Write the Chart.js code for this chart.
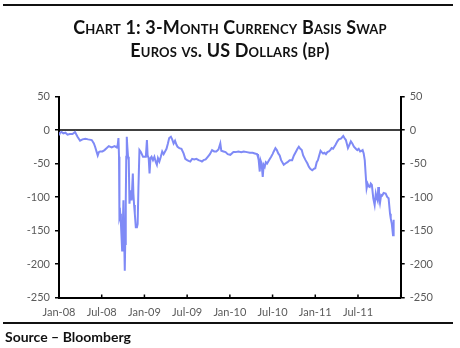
<!DOCTYPE html>
<html>
<head>
<meta charset="utf-8">
<script src="https://cdn.jsdelivr.net/npm/chart.js@4.4.1/dist/chart.umd.min.js"></script>
<style>
    html, body { margin: 0; padding: 0; background: #fff; }
    #page { position: relative; width: 460px; height: 348px; overflow: hidden; }
    #basisChart { position: absolute; left: 0; top: 0; }
    .rule { position: absolute; left: 3px; width: 450px; height: 2px; background: #111; }
    .title {
        position: absolute; left: 0; width: 460px; text-align: center;
        font-family: Lato, "Open Sans", sans-serif; font-weight: bold;
        font-variant: small-caps; font-size: 18px; line-height: 22px; color: #111;
        letter-spacing: 0.15px;
    }
    #source {
        position: absolute; left: 5px; top: 328px;
        font-family: Lato, "Open Sans", sans-serif; font-weight: bold; font-size: 14px; color: #111;
    }
</style>
</head>
<body>
<div id="page">
    <canvas id="basisChart" width="460" height="348"></canvas>
    <div class="rule" style="top:4px"></div>
    <div class="title" style="top:16px">Chart 1: 3-Month Currency Basis Swap</div>
    <div class="title" style="top:39px">Euros vs. US Dollars (bp)</div>
    <div class="rule" style="top:322px"></div>
    <div id="source">Source – Bloomberg</div>
</div>
<script>
// Months elapsed since 1 Jan 2008 for each observation
const tradeMonths = [
    0.0, 0.15, 0.35, 0.6, 0.9, 1.2, 1.5, 1.9, 2.25, 2.6, 2.96, 3.3, 3.7, 4.1, 4.6, 4.9,
    5.07, 5.3, 5.44, 5.6, 5.77, 6.1, 6.4, 6.71, 7.0, 7.4, 7.8, 8.12, 8.25, 8.35, 8.43, 8.49,
    8.6, 8.7, 8.87, 8.95, 9.05, 9.15, 9.24, 9.3, 9.38, 9.45, 9.52, 9.6, 9.7, 9.8, 9.9, 10.0,
    10.1, 10.2, 10.37, 10.45, 10.55, 10.65, 10.79, 10.95, 11.05, 11.16, 11.3, 11.5, 11.8, 12.0,
    12.2, 12.35, 12.45, 12.6, 12.72, 12.85, 13.0, 13.2, 13.4, 13.6, 13.75, 13.9, 14.1, 14.3,
    14.5, 14.7, 14.9, 15.1, 15.3, 15.48, 15.72, 15.9, 16.1, 16.3, 16.5, 16.65, 16.9, 17.2,
    17.5, 17.74, 18.0, 18.2, 18.44, 18.7, 19.0, 19.3, 19.6, 19.9, 20.08, 20.3, 20.6, 20.9,
    21.2, 21.5, 21.8, 22.1, 22.4, 22.66, 22.8, 23.1, 23.4, 23.7, 24.07, 24.5, 24.8, 25.2,
    25.6, 25.95, 26.4, 26.8, 27.2, 27.5, 27.82, 27.95, 28.05, 28.2, 28.3, 28.45, 28.62, 28.75,
    28.9, 29.05, 29.23, 29.5, 29.8, 30.0, 30.17, 30.4, 30.6, 30.8, 31.0, 31.2, 31.57, 31.8,
    32.1, 32.4, 32.75, 33.0, 33.3, 33.5, 33.69, 33.9, 34.1, 34.3, 34.63, 34.9, 35.1, 35.3,
    35.57, 35.8, 36.0, 36.2, 36.37, 36.55, 36.74, 36.9, 37.1, 37.3, 37.5, 37.7, 37.91, 38.1,
    38.3, 38.5, 38.85, 39.1, 39.3, 39.6, 39.93, 40.1, 40.3, 40.59, 40.8, 41.0, 41.2, 41.43,
    41.7, 41.9, 42.1, 42.3, 42.5, 42.65, 42.8, 42.95, 43.07, 43.21, 43.35, 43.5, 43.65, 43.8,
    43.95, 44.15, 44.34, 44.5, 44.6, 44.75, 44.85, 44.95, 45.09, 45.25, 45.4, 45.6, 45.89, 46.1,
    46.3, 46.5, 46.6, 46.75, 46.92, 47.01
];

// 3-month EUR/USD cross-currency basis swap, basis points
const basisBp = [
    -8, -4, -3, -5, -4, -7, -6, -6, -3, -10, -16, -14, -13, -14, -15, -20,
    -25, -33, -38, -33, -32, -32, -30, -27, -24, -26, -24, -26, -22, -12, -40, -130,
    -125, -140, -180, -150, -105, -160, -210, -170, -105, -40, -10, -25, -40, -45, -110, -95,
    -90, -105, -65, -95, -112, -125, -145, -145, -140, -85, -30, -33, -40, -40,
    -40, -15, -38, -42, -65, -42, -40, -45, -40, -48, -52, -42, -47, -40,
    -32, -36, -32, -28, -20, -12, -10, -14, -20, -16, -22, -25, -27, -28,
    -35, -43, -45, -46, -47, -43, -44, -43, -45, -46, -47, -45, -44, -40,
    -36, -30, -32, -32, -29, -20, -31, -32, -33, -36, -37, -33, -33, -32,
    -33, -32, -33, -34, -34, -35, -36, -40, -45, -62, -45, -50, -70, -52,
    -55, -48, -50, -45, -40, -36, -32, -27, -30, -35, -38, -45, -52, -50,
    -48, -45, -45, -38, -32, -28, -25, -28, -30, -38, -45, -50, -55, -58,
    -60, -58, -57, -48, -45, -38, -31, -33, -35, -34, -36, -33, -32, -30,
    -27, -28, -22, -17, -14, -13, -9, -12, -15, -27, -22, -17, -20, -25,
    -28, -30, -28, -32, -31, -30, -35, -45, -65, -87, -80, -84, -85, -80,
    -82, -102, -112, -95, -100, -105, -85, -100, -109, -97, -98, -94, -95, -100,
    -102, -125, -132, -140, -157, -134
];

const xTickLabels = ['Jan-08', 'Jul-08', 'Jan-09', 'Jul-09', 'Jan-10', 'Jul-10', 'Jan-11', 'Jul-11', ''];
const yTicks = [50, 0, -50, -100, -150, -200, -250];

const lineColor = '#7f8af6';
const tickFont = { family: 'Lato, "Open Sans", sans-serif', size: 11 };
const tickColor = '#5a5a5a';

// Zero line across the plot plus short inward ticks on the date axis
const framePlugin = {
    id: 'frame',
    beforeDatasetsDraw(chart) {
        const { ctx, chartArea, scales } = chart;
        const y0 = scales.y.getPixelForValue(0);
        ctx.save();
        ctx.strokeStyle = '#000';
        ctx.lineWidth = 1.5;
        ctx.beginPath();
        ctx.moveTo(chartArea.left, y0);
        ctx.lineTo(chartArea.right, y0);
        ctx.stroke();
        ctx.restore();
    },
    afterDraw(chart) {
        const { ctx, chartArea, scales } = chart;
        ctx.save();
        ctx.strokeStyle = '#000';
        ctx.lineWidth = 1.5;
        ctx.beginPath();
        xTickLabels.forEach((_, i) => {
            const x = scales.x.getPixelForValue(i * 6);
            ctx.moveTo(x, chartArea.bottom);
            ctx.lineTo(x, chartArea.bottom - 3);
        });
        ctx.stroke();
        ctx.restore();
    }
};

const yAxis = (position) => ({
    type: 'linear',
    position: position,
    min: -250,
    max: 50,
    afterBuildTicks: (scale) => { scale.ticks = yTicks.map(v => ({ value: v })); },
    afterFit: (scale) => { scale.width = position === 'left' ? 59 : 59.3; },
    grid: { drawOnChartArea: false, tickLength: 4, color: '#000', lineWidth: 1.5 },
    border: { color: '#000', width: 2 },
    ticks: { font: tickFont, color: tickColor, padding: 5 }
});

document.addEventListener('DOMContentLoaded', () => {
    const ctx = document.getElementById('basisChart').getContext('2d');
    const points = tradeMonths.map((m, i) => ({ x: m, y: basisBp[i] }));

    new Chart(ctx, {
        type: 'line',
        data: {
            datasets: [{
                label: 'EUR/USD 3M basis',
                data: points,
                borderColor: lineColor,
                borderWidth: 2,
                pointRadius: 0,
                tension: 0,
                fill: false,
                yAxisID: 'y'
            }]
        },
        options: {
            responsive: false,
            animation: false,
            events: [],
            layout: { padding: { top: 96.5, left: 0, right: 0, bottom: 0 } },
            plugins: { legend: { display: false }, tooltip: { enabled: false } },
            scales: {
                x: {
                    type: 'linear',
                    min: 0,
                    max: 48,
                    afterBuildTicks: (scale) => {
                        scale.ticks = xTickLabels.map((_, i) => ({ value: i * 6 }));
                    },
                    afterFit: (scale) => { scale.height = 50.5; },
                    grid: { display: false, tickLength: 0 },
                    border: { color: '#000', width: 2 },
                    ticks: {
                        font: tickFont,
                        color: tickColor,
                        padding: 8,
                        maxRotation: 0,
                        autoSkip: false,
                        callback: (value, index) => xTickLabels[index]
                    }
                },
                y: yAxis('left'),
                y2: yAxis('right')
            }
        },
        plugins: [framePlugin]
    });
});
</script>
</body>
</html>
